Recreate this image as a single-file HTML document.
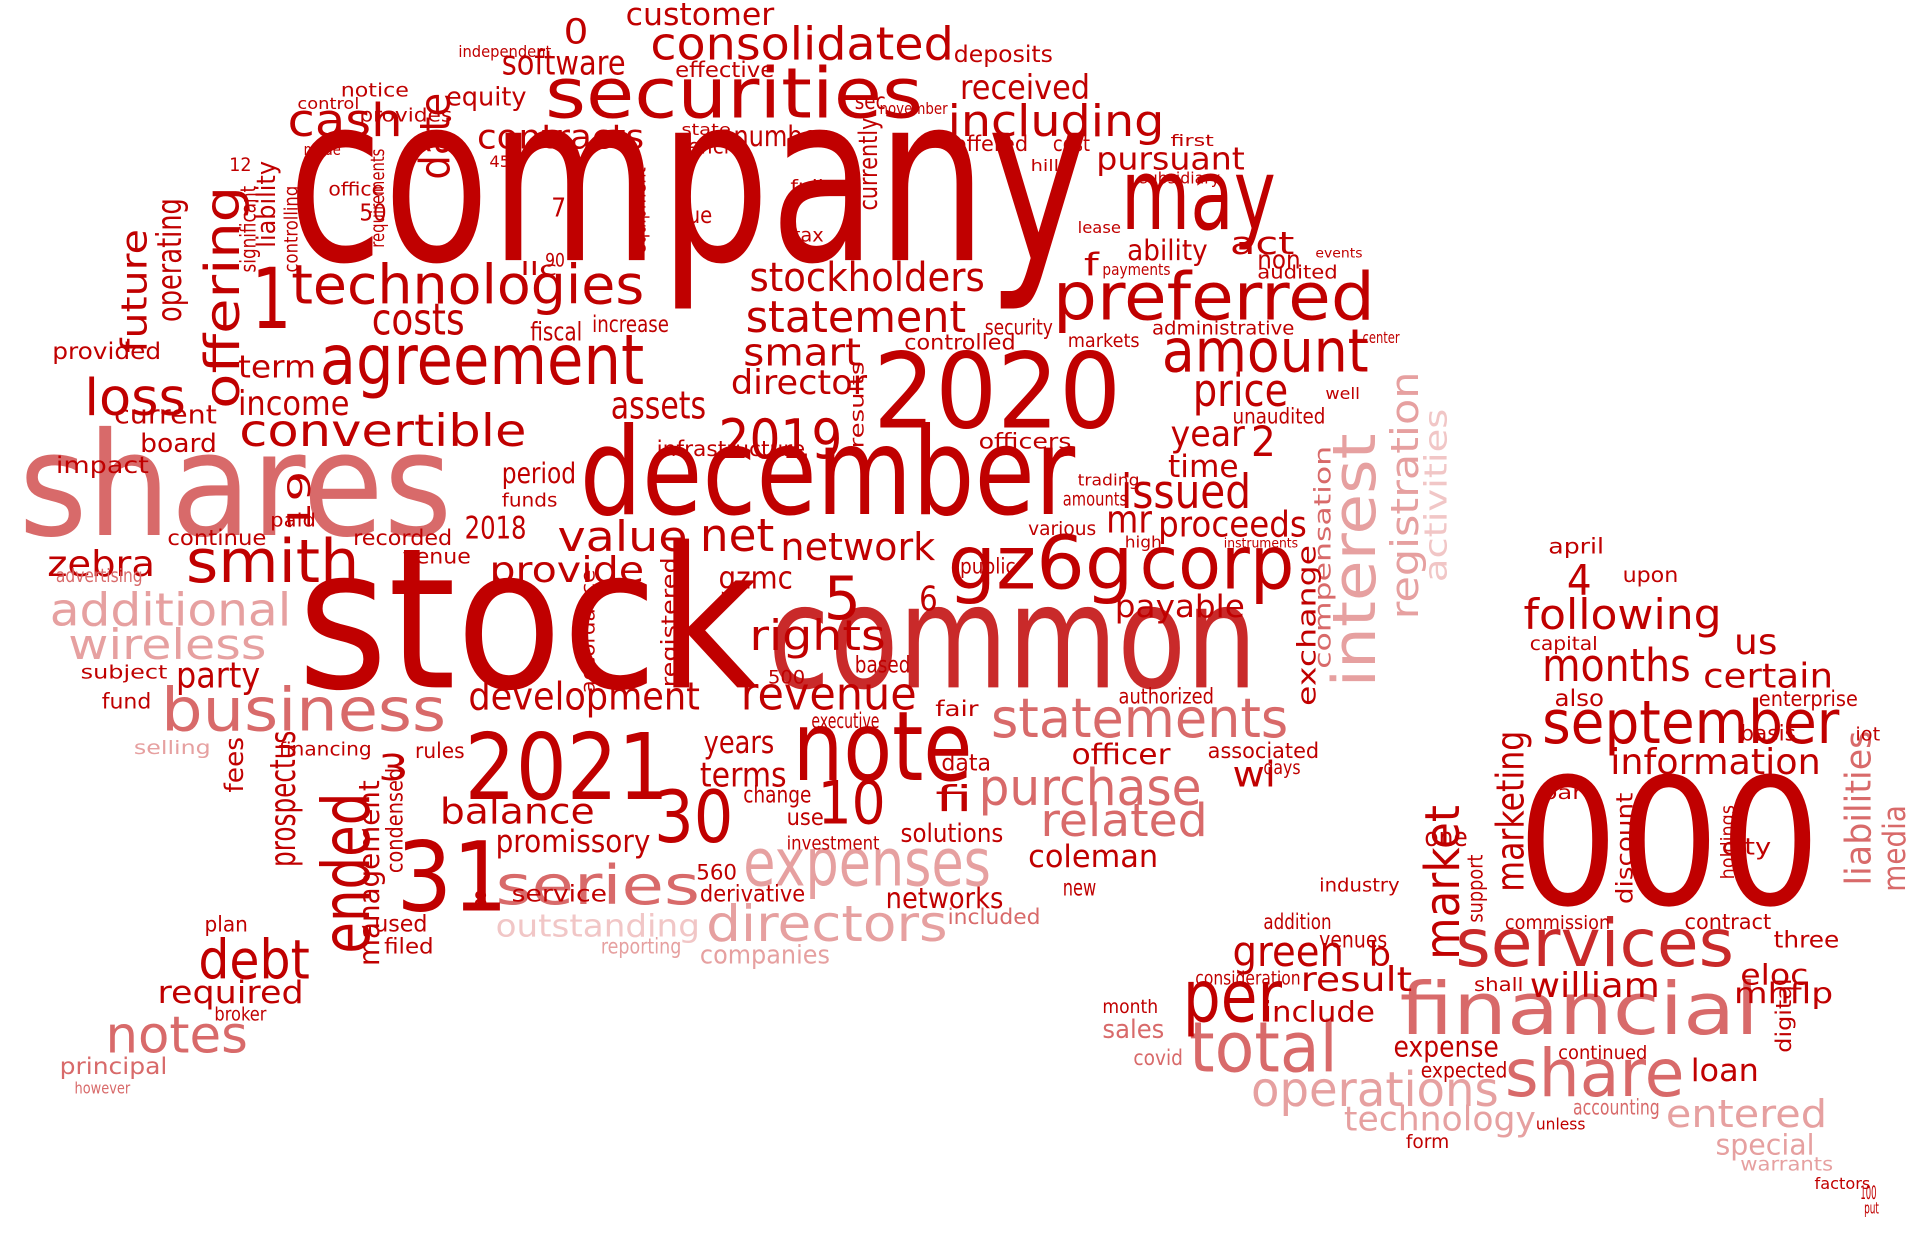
<!DOCTYPE html>
<html><head><meta charset="utf-8"><title>Word cloud</title>
<style>html,body{margin:0;padding:0;background:#fff;overflow:hidden}svg{display:block}</style></head>
<body>
<svg id="cloud" width="1920" height="1236" viewBox="0 0 1550 998" xmlns="http://www.w3.org/2000/svg">
<rect width="1550" height="998" fill="#fff"/>
<g id="words" font-family="'DejaVu Sans','Liberation Sans',sans-serif"></g>
</svg>
<script>
const palette = ['#c00000','#c92a2a','#d86a6a','#e6a0a0','#f1c6c6'];
// [word, x, baseline, size, length, rotated(1=vertical), colour]
const words = [
["company",232,210,188,648,0,0],["stock",240,555,158,372,0,0],["shares",15,432,116,350,0,2],
["december",468,415,98,400,0,0],["2020",705,345,84,200,0,0],["common",620,555,116,395,0,1],
["000",1225,730,142,245,0,0],["2021",375,645,74,165,0,0],["securities",440,95,56,305,0,0],
["may",905,185,80,125,0,0],["preferred",850,258,53,260,0,0],["agreement",258,310,56,262,0,0],
["technologies",235,245,44,285,0,0],["amount",938,300,48,167,0,0],["note",640,630,78,145,0,0],
["corp",920,475,60,125,0,0],["gz6g",765,475,60,150,0,0],["financial",1130,835,58,290,0,2],
["services",1175,780,53,225,0,1],["september",1245,600,48,240,0,0],["share",1215,885,53,145,0,2],
["total",960,865,56,120,0,2],["per",955,825,58,80,0,0],["expenses",600,715,53,200,0,3],
["directors",570,760,40,195,0,3],["series",400,730,44,165,0,2],["31",320,735,78,90,0,0],
["30",528,680,58,64,0,0],["10",660,665,48,55,0,0],["ended",298,770,53,130,1,0],
["debt",160,790,44,90,0,0],["business",130,590,48,230,0,2],["smith",150,470,48,140,0,0],
["statements",800,595,44,240,0,2],["purchase",790,650,41,180,0,2],["related",840,675,37,135,0,2],
["issued",905,410,38,105,0,0],["interest",1110,555,48,205,1,3],["consolidated",525,48,37,245,0,0],
["including",765,110,35,175,0,0],["cash",232,110,37,93,0,0],["loss",68,335,41,82,0,0],
["offering",193,330,39,180,1,0],["additional",40,505,37,195,0,3],["wireless",55,532,34,160,0,3],
["notes",85,850,41,115,0,2],["operations",1010,893,39,200,0,3],["technology",1085,913,27,155,0,3],
["entered",1345,910,31,130,0,3],["special",1385,932,23,80,0,3],["months",1245,550,37,120,0,0],
["following",1230,508,34,160,0,0],["4",1265,480,34,20,0,0],["us",1400,528,29,35,0,0],
["certain",1375,555,27,105,0,0],["information",1300,625,29,170,0,0],["liabilities",1510,715,29,125,1,2],
["media",1538,720,25,70,1,2],["market",1178,775,39,125,1,0],["marketing",1230,720,31,130,1,0],
["william",1235,805,27,105,0,0],["green",995,780,34,90,0,0],["b",1105,780,27,18,0,0],
["result",1050,800,27,90,0,0],["include",1020,825,23,90,0,0],["expense",1125,853,23,85,0,0],
["loan",1365,873,25,55,0,0],["eloc",1405,795,23,55,0,0],["mhflp",1400,810,23,80,0,0],
["price",963,328,37,77,0,0],["year",945,360,29,60,0,0],["2",1010,368,34,20,0,0],
["statement",602,268,35,178,0,0],["stockholders",605,235,32,190,0,0],["smart",600,295,31,95,0,0],
["2019",580,370,44,100,0,0],["director",590,318,27,110,0,0],["assets",493,338,31,77,0,0],
["convertible",193,360,36,232,0,0],["costs",300,270,35,75,0,0],["date",363,145,34,70,1,0],
["received",775,80,27,105,0,0],["contracts",385,120,27,135,0,0],["software",405,60,27,100,0,0],
["customer",505,20,25,120,0,0],["0",455,35,28,20,0,0],["1",203,265,68,32,0,0],
["income",192,335,27,90,0,0],["term",192,305,25,63,0,0],["future",118,285,29,100,1,0],
["operating",146,260,27,100,1,0],["value",450,445,34,105,0,0],["net",565,445,37,60,0,0],
["network",630,452,31,125,0,0],["rights",605,525,34,110,0,0],["revenue",598,573,37,142,0,0],
["development",378,573,31,187,0,0],["provide",395,470,29,125,0,0],["balance",355,665,29,125,0,0],
["terms",565,635,27,70,0,0],["years",568,608,25,57,0,0],["promissory",400,688,25,125,0,0],
["outstanding",400,756,25,165,0,4],["companies",565,778,21,105,0,3],["coleman",830,700,25,105,0,0],
["wi",995,635,29,35,0,0],["fi",755,655,29,30,0,0],["solutions",727,680,21,83,0,0],
["networks",715,733,23,95,0,0],["proceeds",935,433,29,120,0,0],["mr",893,430,31,37,0,0],
["time",943,385,25,57,0,0],["payable",900,498,25,105,0,0],["registration",1145,500,31,200,1,3],
["activities",1168,470,25,140,1,4],["compensation",1074,540,19,180,1,2],["exchange",1062,570,21,130,1,0],
["5",665,500,48,30,0,0],["gzmc",580,475,25,60,0,0],["6",742,493,27,15,0,0],
["19",250,430,25,50,1,0],["zebra",38,465,29,87,0,0],["party",142,555,29,68,0,0],
["prospectus",238,700,29,110,1,0],["management",306,780,23,150,1,0],["condensed",325,705,19,85,1,0],
["3",305,630,29,25,0,0],["required",127,810,25,118,0,0],["period",405,390,23,60,0,0],
["2018",375,435,25,50,0,0],["board",113,365,21,62,0,0],["current",92,342,21,83,0,0],
["provided",42,290,19,88,0,0],["impact",45,382,19,75,0,0],["continue",135,440,17,80,0,0],
["equity",360,85,21,65,0,0],["pursuant",885,137,25,120,0,0],["act",993,205,25,52,0,0],
["ability",910,210,23,65,0,0],["f",875,222,25,12,0,0],["non",1015,217,21,35,0,0],
["administrative",930,270,15,115,0,0],["unaudited",995,342,17,75,0,0],["fiscal",428,275,21,42,0,0],
["increase",478,268,19,62,0,0],["security",795,270,17,55,0,0],["controlled",730,282,17,90,0,0],
["number",592,118,23,76,0,0],["offered",770,122,17,60,0,0],["cost",850,122,17,30,0,0],
["currently",708,170,21,75,1,0],["equipment",521,205,15,70,1,0],["tax",640,195,15,25,0,0],
["full",638,156,15,27,0,0],["due",545,180,19,30,0,0],["7",445,175,21,12,0,0],
["significant",206,220,17,70,1,0],["liability",222,200,21,70,1,0],["controlling",240,220,15,70,1,0],
["requirements",310,200,15,80,1,0],["50",290,178,19,22,0,0],["12",185,138,15,18,0,0],
["office",265,158,15,45,0,0],["notice",275,78,15,55,0,0],["provides",290,98,15,75,0,0],
["control",240,88,13,50,0,0],["made",245,125,13,30,0,0],["llc",420,222,15,30,0,0],
["90",440,215,15,16,0,0],["450",395,135,13,25,0,0],["deposits",770,50,19,80,0,0],
["sec",690,88,19,25,0,0],["effective",545,62,17,80,0,0],["independent",370,46,13,75,0,0],
["november",710,92,13,55,0,0],["state",550,109,13,40,0,0],["deficit",545,124,17,50,0,0],
["hill",832,138,13,23,0,0],["subsidiary",920,148,13,65,0,0],["first",945,118,13,35,0,0],
["lease",870,188,13,35,0,0],["payments",890,222,13,55,0,0],["audited",1015,225,15,65,0,0],
["events",1062,208,11,38,0,0],["markets",862,280,15,58,0,0],["center",1100,277,13,30,0,0],
["well",1070,322,13,28,0,0],["officers",790,362,17,75,0,0],["public",775,463,17,45,0,0],
["fair",755,578,17,35,0,0],["data",760,622,19,40,0,0],["officer",865,617,23,80,0,0],
["associated",975,612,17,90,0,0],["authorized",903,568,17,77,0,0],["days",1020,625,15,30,0,0],
["new",858,723,19,27,0,0],["included",765,746,17,75,0,2],["investment",635,686,15,75,0,0],
["use",635,666,19,30,0,0],["change",600,648,19,55,0,0],["derivative",565,728,19,85,0,0],
["service",413,728,19,77,0,0],["560",562,710,17,33,0,0],["500",620,552,15,30,0,0],
["executive",655,588,17,55,0,0],["based",690,543,19,45,0,0],["registered",546,555,17,105,1,0],
["accordance",480,560,15,100,1,0],["venue",325,455,17,55,0,0],["recorded",285,440,17,80,0,0],
["funds",405,409,15,45,0,0],["paid",218,425,15,37,0,0],["advertising",45,470,15,70,0,2],
["fund",82,572,17,40,0,0],["subject",65,548,15,70,0,0],["selling",108,609,15,62,0,3],
["fees",196,640,21,45,1,0],["financing",225,610,15,75,0,0],["rules",335,612,17,40,0,0],
["8",382,733,19,12,0,0],["used",302,752,19,43,0,0],["filed",310,770,17,40,0,0],
["plan",165,752,17,35,0,0],["broker",173,824,15,42,0,0],["principal",48,867,19,87,0,2],
["however",60,883,13,45,0,2],["sales",890,838,21,50,0,2],["covid",915,860,17,40,0,2],
["month",890,818,15,45,0,0],["consideration",965,795,15,85,0,0],["venues",1065,765,19,55,0,0],
["addition",1020,750,17,55,0,0],["industry",1065,720,15,65,0,0],["one",1150,683,21,35,0,0],
["support",1197,745,17,55,1,0],["commission",1215,750,15,85,0,0],["contract",1360,750,17,70,0,0],
["three",1432,765,19,53,0,0],["holdings",1400,710,15,60,1,0],["city",1390,690,19,40,0,0],
["discount",1318,730,19,90,1,0],["digital",1446,850,17,60,1,0],["expected",1147,870,17,70,0,0],
["continued",1258,855,15,72,0,0],["accounting",1270,900,17,70,0,2],["unless",1240,912,13,40,0,0],
["form",1135,927,15,35,0,0],["warrants",1405,945,15,75,0,3],["factors",1465,960,13,45,0,0],
["100",1502,968,15,13,0,0],["put",1505,980,13,12,0,0],["capital",1235,525,15,55,0,0],
["also",1255,570,19,40,0,0],["upon",1310,470,17,45,0,0],["basis",1405,598,17,45,0,0],
["enterprise",1420,570,17,80,0,0],["iot",1498,598,15,20,0,0],["april",1250,447,17,45,0,0],
["part",1245,645,15,40,0,0],["shall",1190,800,15,40,0,0],
["reporting",485,770,17,65,0,3],["infrastructure",530,368,17,120,0,0],["results",697,362,15,70,1,0],
["various",830,432,15,55,0,0],["amounts",858,408,15,52,0,0],["trading",870,392,13,50,0,0],
["high",908,442,13,30,0,0],["instruments",988,442,11,60,0,0]
];
const g = document.getElementById('words');
const NS = 'http://www.w3.org/2000/svg';
for (const w of words) {
  const t = document.createElementNS(NS, 'text');
  
  
  t.setAttribute('x', w[1]);
  t.setAttribute('y', w[2]);
  t.setAttribute('font-size', w[3]);
  t.setAttribute('fill', palette[w[6]]);
  if (w[4] > 1) { t.setAttribute('textLength', w[4]); t.setAttribute('lengthAdjust', 'spacingAndGlyphs'); }
  if (w[5] === 1) t.setAttribute('transform', 'rotate(-90 ' + w[1] + ' ' + w[2] + ')');
  t.textContent = w[0];
  g.appendChild(t);
}
</script>
</body></html>
